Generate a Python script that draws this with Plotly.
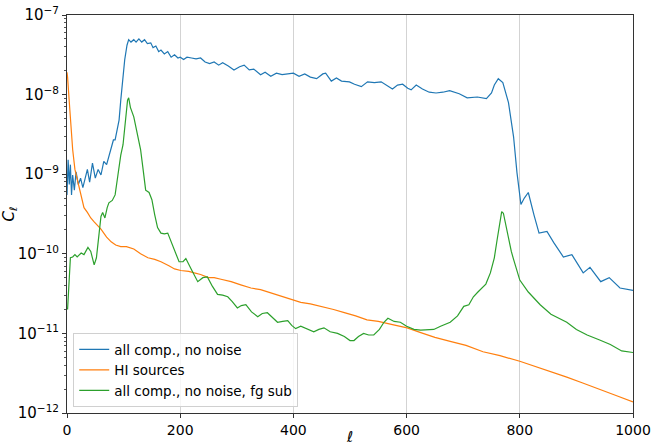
import numpy as np
import plotly.graph_objects as go

# ---- data (C_ell given as log10 values) ----
ell_all = [0, 2, 4, 6, 8, 10, 13, 16, 20, 24, 28, 32, 36, 40, 45, 50, 55, 60, 65, 70, 75, 78, 82, 85, 88, 92, 95, 98,
           102, 106, 109, 113, 118, 122, 127, 132, 137, 142, 148, 152, 157, 162, 166, 172, 178, 184, 190, 196, 200,
           206, 212, 220, 228, 236, 244, 252, 260, 268, 275, 285, 295, 305, 313, 322, 330, 342, 350, 360, 370, 380,
           390, 400, 410, 420, 430, 441, 452, 457, 467, 476, 485, 499, 508, 520, 531, 543, 555, 563, 575, 584, 593,
           602, 608, 617, 628, 640, 652, 664, 676, 693, 707, 725, 741, 750, 755, 762, 770, 780, 789, 795, 802, 808,
           815, 825, 834, 848, 860, 877, 892, 912, 924, 943, 958, 977, 1000]
cl_all_log10 = [-9.26, -8.82, -9.13, -8.88, -9.26, -9.01, -9.20, -8.97, -9.13, -9.05, -9.17, -9.07, -8.94, -9.10,
                -8.86, -9.05, -8.94, -9.01, -8.84, -8.88, -8.76, -8.69, -8.57, -8.57, -8.44, -8.32, -8.07, -7.82,
                -7.56, -7.38, -7.31, -7.34, -7.31, -7.34, -7.30, -7.34, -7.31, -7.36, -7.35, -7.41, -7.39, -7.46,
                -7.44, -7.49, -7.46, -7.53, -7.50, -7.54, -7.53, -7.56, -7.53, -7.54, -7.55, -7.54, -7.59, -7.61,
                -7.59, -7.63, -7.60, -7.64, -7.69, -7.65, -7.63, -7.69, -7.68, -7.75, -7.72, -7.77, -7.73, -7.75,
                -7.74, -7.73, -7.77, -7.74, -7.78, -7.80, -7.74, -7.73, -7.83, -7.79, -7.83, -7.84, -7.87, -7.90,
                -7.84, -7.85, -7.84, -7.88, -7.93, -7.88, -7.87, -7.92, -7.94, -7.88, -7.93, -7.97, -7.98, -7.97,
                -7.95, -7.99, -8.04, -8.03, -8.05, -7.98, -7.88, -7.80, -7.85, -8.10, -8.53, -8.98, -9.38, -9.30,
                -9.23, -9.51, -9.74, -9.72, -9.86, -10.04, -10.01, -10.24, -10.17, -10.35, -10.30, -10.43, -10.46]

ell_hi = [0, 1, 5, 8, 10, 14, 18, 22, 26, 30, 36, 42, 48, 55, 60, 70, 78, 86, 95, 105, 118, 130, 143, 155, 166, 180,
          190, 201, 215, 225, 236, 250, 260, 272, 290, 307, 325, 342, 360, 380, 400, 413, 430, 450, 471, 490, 510,
          530, 550, 575, 601, 625, 650, 677, 705, 735, 765, 800, 830, 860, 883, 910, 942, 970, 1000]
cl_hi_log10 = [-7.72, -7.78, -8.19, -8.51, -8.69, -8.94, -9.07, -9.20, -9.30, -9.42, -9.48, -9.55, -9.60, -9.65,
               -9.69, -9.79, -9.85, -9.89, -9.91, -9.91, -9.94, -10.00, -10.05, -10.07, -10.10, -10.15, -10.19,
               -10.21, -10.22, -10.24, -10.26, -10.30, -10.30, -10.32, -10.35, -10.39, -10.43, -10.45, -10.49,
               -10.53, -10.58, -10.61, -10.63, -10.66, -10.70, -10.74, -10.78, -10.83, -10.85, -10.89, -10.93,
               -10.99, -11.05, -11.10, -11.15, -11.23, -11.28, -11.35, -11.42, -11.49, -11.55, -11.62, -11.71,
               -11.78, -11.86]

ell_sub = [1, 2, 4, 6, 10, 14, 18, 25, 30, 37, 42, 48, 52, 56, 60, 63, 67, 71, 74, 80, 85, 90, 95, 99, 104, 107,
           109, 112, 118, 124, 130, 135, 139, 145, 150, 155, 160, 166, 172, 178, 184, 189, 198, 205, 210, 220, 231,
           240, 248, 257, 266, 275, 284, 292, 301, 308, 316, 326, 337, 345, 354, 363, 372, 381, 390, 397, 404, 413,
           425, 436, 445, 454, 465, 478, 490, 500, 507, 515, 524, 533, 542, 552, 560, 567, 578, 589, 600, 613, 625,
           637, 648, 660, 677, 690, 701, 710, 718, 726, 733, 740, 748, 755, 760, 765, 768, 771, 775, 780, 785, 789,
           795, 800, 815, 836, 855, 870, 883, 900, 919, 940, 960, 980, 1000]
cl_sub_log10 = [-10.70, -10.58, -10.26, -10.05, -10.04, -10.01, -10.04, -9.99, -10.01, -9.92, -9.97, -10.14, -10.05,
                -9.82, -9.53, -9.48, -9.55, -9.42, -9.36, -9.33, -9.26, -9.01, -8.76, -8.63, -8.32, -8.07, -8.04,
                -8.16, -8.28, -8.48, -8.69, -8.97, -9.20, -9.23, -9.32, -9.51, -9.67, -9.74, -9.75, -9.74, -9.85,
                -9.95, -10.10, -10.10, -10.06, -10.20, -10.35, -10.30, -10.29, -10.41, -10.51, -10.52, -10.54,
                -10.60, -10.68, -10.65, -10.64, -10.73, -10.79, -10.75, -10.74, -10.80, -10.86, -10.85, -10.84,
                -10.90, -10.94, -10.91, -10.95, -10.98, -10.95, -10.93, -10.98, -11.00, -11.04, -11.09, -11.09,
                -11.04, -11.00, -11.02, -11.02, -10.95, -10.86, -10.81, -10.85, -10.86, -10.91, -10.95, -10.96,
                -10.95, -10.95, -10.91, -10.86, -10.78, -10.66, -10.64, -10.54, -10.48, -10.43, -10.38, -10.24,
                -10.05, -9.82, -9.60, -9.47, -9.49, -9.64, -9.82, -9.97, -10.07, -10.20, -10.33, -10.48, -10.64,
                -10.76, -10.81, -10.86, -10.95, -11.02, -11.08, -11.14, -11.22, -11.24]

series_names = ["all comp., no noise", "HI sources", "all comp., no noise, fg sub"]
series_colors = ["#1f77b4", "#ff7f0e", "#2ca02c"]

x_ticks = [0, 200, 400, 600, 800, 1000]
y_exps = [-12, -11, -10, -9, -8, -7]

# ---- figure ----
fig = go.Figure()
for name, col, xs, ys in zip(series_names, series_colors,
                              [ell_all, ell_hi, ell_sub],
                              [cl_all_log10, cl_hi_log10, cl_sub_log10]):
    fig.add_trace(go.Scatter(x=xs, y=np.power(10.0, np.array(ys)), mode="lines", name=name,
                             line=dict(color=col, width=1.2)))

font_family = "DejaVu Sans"
fig.update_layout(
    width=651, height=446,
    margin=dict(l=67, r=18, t=15, b=33),
    paper_bgcolor="white", plot_bgcolor="white",
    font=dict(family=font_family, size=15, color="black"),
    showlegend=True,
    legend=dict(x=0.011, y=0.015, xanchor="left", yanchor="bottom",
                bgcolor="rgba(255,255,255,0.8)", bordercolor="#d0d0d0", borderwidth=1,
                font=dict(size=13.5, family=font_family), itemwidth=30, tracegroupgap=0),
)
fig.update_xaxes(
    range=[0, 1000], tickvals=x_ticks, ticktext=[str(v) for v in x_ticks],
    tickfont=dict(size=14),
    showline=True, mirror=True, linecolor="#333", linewidth=1,
    ticks="outside", ticklen=4, tickcolor="#333", ticklabeloverflow="allow",
    showgrid=True, gridcolor="#d3d3d3", gridwidth=1, zeroline=False, automargin=False,
    title=dict(text="<i>ℓ</i>", standoff=2, font=dict(size=15)),
)
fig.update_yaxes(
    type="log", range=[-12, -7],
    tickvals=[10.0 ** e for e in y_exps],
    ticktext=["10<sup>−%d</sup>" % (-e) for e in y_exps],
    showline=True, mirror=True, linecolor="#333", linewidth=1,
    ticks="outside", ticklen=4, tickcolor="#333", ticklabeloverflow="allow",
    minor=dict(ticks="outside", ticklen=2, tickcolor="#555", dtick="D1", showgrid=False),
    showgrid=False, zeroline=False, automargin=False,
    title=dict(text="<i>C</i><sub><i>ℓ</i></sub>", standoff=0, font=dict(size=15)),
)

fig.write_html("out.html")
